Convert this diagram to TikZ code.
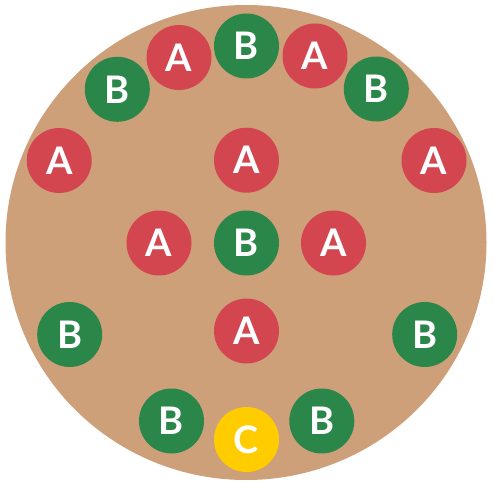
\documentclass[tikz,border=0pt]{standalone}
\usepackage{fontspec}
\setmainfont{Lato}[UprightFont=* Bold]
\definecolor{tan}{RGB}{205,160,122}
\definecolor{cred}{RGB}{211,70,80}
\definecolor{cgreen}{RGB}{43,134,73}
\definecolor{cyellow}{RGB}{255,204,0}
\begin{document}
\begin{tikzpicture}[x=1pt,y=-1pt,
  disc/.style={circle,minimum size=65pt,inner sep=0pt,text=white,font=\fontsize{38}{38}\selectfont},
  adisc/.style={disc,fill=cred},
  bdisc/.style={disc,fill=cgreen},
  cdisc/.style={disc,fill=cyellow}]
\useasboundingbox (0,0) rectangle (493,487);
\fill[tan] (246,242.5) ellipse [x radius=240.5,y radius=237.5];
\node[adisc] (a1) at (179,57.5) {A};
\node[bdisc] (b1) at (246.5,46) {B};
\node[adisc] (a2) at (315,56) {A};
\node[bdisc] (b2) at (117.3,89.3) {B};
\node[bdisc] (b3) at (376.3,89) {B};
\node[adisc] (a3) at (59.2,160.5) {A};
\node[adisc] (a4) at (246.5,160.2) {A};
\node[adisc] (a5) at (434,160.5) {A};
\node[adisc] (a6) at (159,243) {A};
\node[bdisc] (b4) at (246.5,243) {B};
\node[adisc] (a7) at (333.5,243) {A};
\node[bdisc] (b5) at (69.7,334.5) {B};
\node[adisc] (a8) at (246.5,331) {A};
\node[bdisc] (b6) at (424.7,334.5) {B};
\node[bdisc] (b7) at (171.5,421) {B};
\node[cdisc] (c1) at (246.5,439.5) {C};
\node[bdisc] (b8) at (321.8,421) {B};
\end{tikzpicture}
\end{document}
